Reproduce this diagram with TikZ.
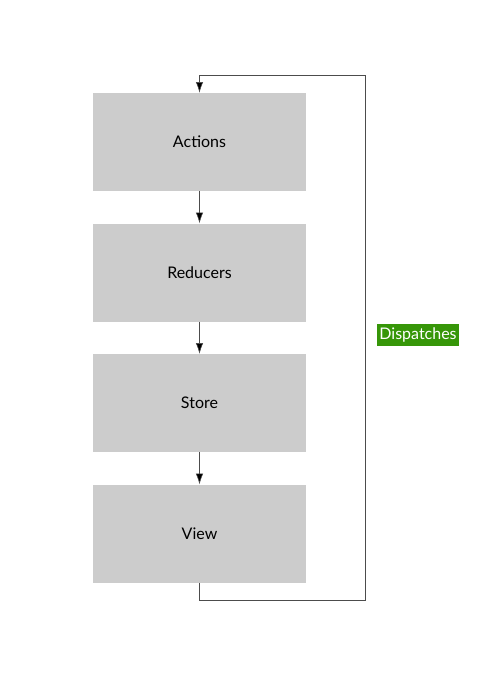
\documentclass[tikz,border=0pt]{standalone}
\usepackage{fontspec}
\setmainfont{Lato}
\usetikzlibrary{positioning,arrows.meta}
\definecolor{dispatchgreen}{RGB}{54,150,8}
\begin{document}
\begin{tikzpicture}[
        x=0.75pt, y=-0.75pt,
        node distance=24pt,
        stage/.style={rectangle, fill=black!20, minimum width=159.75pt, minimum height=73.5pt, inner sep=0pt, font=\large},
        flow/.style={draw=black!70, -{Latex[length=8pt,width=5.5pt,fill=black]}}
    ]
    \useasboundingbox (0,0) rectangle (500,700);
    \node[stage] (actions) at (199.5,142) {Actions};
    \node[stage, below=of actions] (reducers) {Reducers};
    \node[stage, below=of reducers] (store) {Store};
    \node[stage, below=of store] (view) {View};
    \draw[flow] (actions) -- (reducers);
    \draw[flow] (reducers) -- (store);
    \draw[flow] (store) -- (view);
    % loop back to the actions
    \coordinate (loopbr) at (365,600);
    \coordinate (looptr) at (365,75);
    \draw[flow] (view.south) |- (loopbr) -- (looptr) -| (actions.north);
    \node[fill=dispatchgreen, text=white, font=\large, inner xsep=2pt, inner ysep=2.5pt] (dispatches) at (418,335) {Dispatches};
\end{tikzpicture}
\end{document}
